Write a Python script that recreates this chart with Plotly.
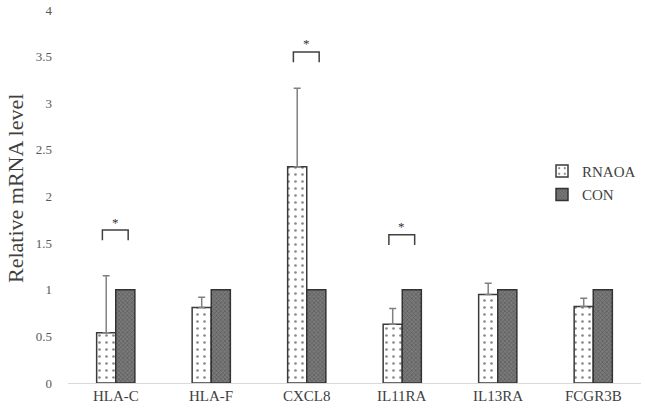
import plotly.graph_objects as go

# dados
genes = ["HLA-C", "HLA-F", "CXCL8", "IL11RA", "IL13RA", "FCGR3B"]
rnaoa = [0.54, 0.81, 2.32, 0.63, 0.95, 0.82]
rnaoa_err = [0.61, 0.11, 0.84, 0.17, 0.12, 0.09]
con = [1, 1, 1, 1, 1, 1]

# genes com diferenca significativa e altura do colchete
sig_genes = ["HLA-C", "CXCL8", "IL11RA"]
sig_level = [1.64, 3.55, 1.59]

serif = "Liberation Serif"
xpos = list(range(len(genes)))

fig = go.Figure()
fig.add_trace(go.Bar(
    x=xpos, y=rnaoa, name="RNAOA", legendgroup="a", offsetgroup="a",
    marker=dict(color="white", line=dict(color="#3a3a3a", width=1.5),
                pattern=dict(shape=".", fgcolor="#8a8a8a", bgcolor="white", size=7, solidity=0.12)),
    error_y=dict(type="data", symmetric=False, array=rnaoa_err,
                 arrayminus=[0] * len(rnaoa_err), color="#808080", thickness=1.5, width=3.5),
))
fig.add_trace(go.Bar(
    x=xpos, y=con, name="CON", legendgroup="b", offsetgroup="b",
    marker=dict(color="#6e6e6e", line=dict(color="#333333", width=1.5),
                pattern=dict(shape="x", fgcolor="#5a5a5a", bgcolor="#7a7a7a", size=3, solidity=0.4)),
))

# colchetes de significancia
for g, lvl in zip(sig_genes, sig_level):
    i = genes.index(g)
    x0, x1 = i - 0.14, i + 0.13
    fig.add_shape(type="path", xref="x", yref="y",
                  path=f"M {x0} {lvl - 0.11} L {x0} {lvl} L {x1} {lvl} L {x1} {lvl - 0.11}",
                  line=dict(color="#404040", width=1.5))
    fig.add_annotation(x=(x0 + x1) / 2, y=lvl, yshift=8, text="*", showarrow=False,
                       font=dict(family=serif, size=13, color="#333333"))

# rotulos do eixo x como anotacoes (para ficarem colados ao eixo)
for i, g in enumerate(genes):
    fig.add_annotation(x=i, y=0, yshift=-13, text=g, showarrow=False, yanchor="middle",
                       font=dict(family=serif, size=15, color="#404040"))

fig.add_annotation(text="Relative mRNA level", xref="paper", yref="paper", x=0, y=0.52,
                   xanchor="center", yanchor="middle", xshift=-53, textangle=-90, showarrow=False,
                   font=dict(family=serif, size=22, color="#404040"))

fig.update_layout(
    template="none",
    width=645, height=410,
    margin=dict(l=68, r=4, t=10, b=27),
    paper_bgcolor="white", plot_bgcolor="white",
    barmode="group", bargap=0.6, bargroupgap=0,
    font=dict(family=serif, color="#404040"),
    legend=dict(x=1.0, y=0.612, xanchor="right", yanchor="top", itemwidth=30,
                font=dict(family=serif, size=15, color="#404040"),
                tracegroupgap=1, bgcolor="rgba(0,0,0,0)"),
)
fig.update_xaxes(range=[-0.5, len(genes) - 0.5], showticklabels=False,
                 showline=True, linecolor="#d9d9d9", linewidth=1, showgrid=False,
                 zeroline=False, ticks="", automargin=False)
fig.update_yaxes(range=[0, 4], dtick=0.5, showgrid=False, zeroline=False, showline=False,
                 ticks="", ticklen=0, ticklabelstandoff=15, automargin=False,
                 tickfont=dict(family=serif, size=13, color="#595959"))

# tira a margem padrao do body da pagina
fig.write_html("out.html", config={"displayModeBar": False},
               post_script="document.body.style.margin='0';")
